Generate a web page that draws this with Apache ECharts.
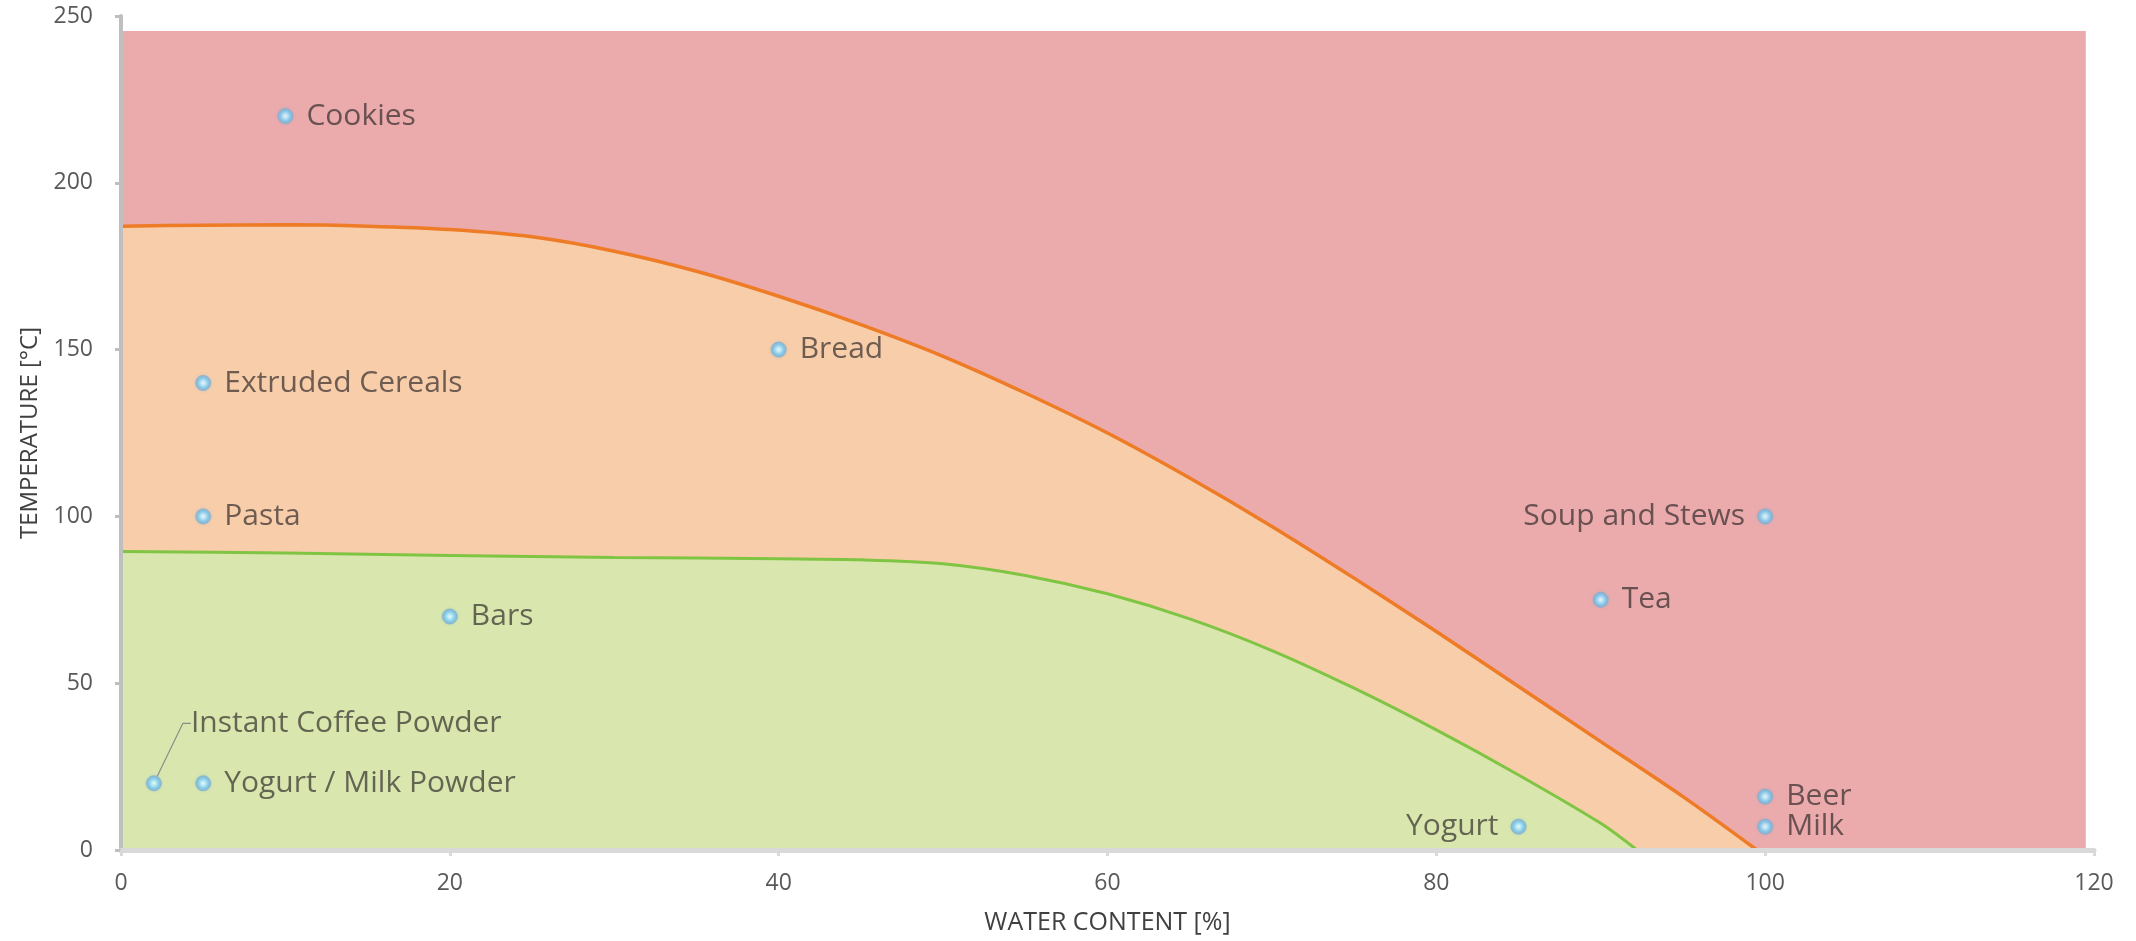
<!DOCTYPE html>
<html>
<head>
<meta charset="utf-8">
<script src="https://cdn.jsdelivr.net/npm/echarts@6/dist/echarts.min.js"></script>
<style>
html,body{margin:0;padding:0;background:#fff;}
#chart{width:2136px;height:941px;}
</style>
</head>
<body>
<div id="chart"></div>
<script>
// ---- data ----
const xTicks = [0, 20, 40, 60, 80, 100, 120];
const yTicks = [0, 50, 100, 150, 200, 250];

// upper region (red) extent
const redX = [0, 119.5];
const redY = [245.5, 245.5];

// orange boundary curve
const orangeX = [0, 5, 10, 15, 20, 25, 30, 35, 40, 45, 50, 55, 60, 65, 70, 75, 80, 85, 90, 95, 99.5];
const orangeY = [187, 187.3, 187.4, 187, 186, 183.8, 179.5, 173.5, 166, 157.5, 148, 137, 125, 111.5, 97, 81.5, 65.5, 49, 32.5, 16, 0];

// green boundary curve
const greenX = [0, 10, 20, 30, 40, 45, 50, 55, 60, 65, 70, 75, 80, 85, 90, 92.2];
const greenY = [89.5, 89, 88.3, 87.7, 87.3, 87, 85.8, 82.3, 76.8, 69.3, 59.8, 48.5, 36, 22.5, 8, 0];

// foods
const foodNames = ['Cookies', 'Extruded Cereals', 'Pasta', 'Bars', 'Bread', 'Instant Coffee Powder',
  'Yogurt / Milk Powder', 'Yogurt', 'Soup and Stews', 'Tea', 'Beer', 'Milk'];
const foodWater = [10, 5, 5, 20, 40, 2, 5, 85, 100, 90, 100, 100];
const foodTemp  = [220, 140, 100, 70, 150, 20, 20, 7, 100, 75, 16, 7];

const leftLabeled = ['Yogurt', 'Soup and Stews'];
const leaderLabeled = ['Instant Coffee Powder'];

function pairs(xs, ys) { return xs.map((x, i) => [x, ys[i]]); }

const FONT = '"Open Sans", "Noto Sans", sans-serif';

const markerColor = {
  type: 'radial', x: 0.5, y: 0.5, r: 0.5,
  colorStops: [
    { offset: 0, color: '#ffffff' },
    { offset: 0.3, color: '#b5ecff' },
    { offset: 0.7, color: '#72c2ec' },
    { offset: 1, color: '#9ab3c9' }
  ]
};

const foodData = foodNames.map((n, i) => {
  const item = { name: n, value: [foodWater[i], foodTemp[i]] };
  if (leftLabeled.includes(n)) {
    item.label = { position: 'left', distance: 12 };
  }
  if (leaderLabeled.includes(n)) {
    item.labelLine = { show: true, length2: 8, lineStyle: { color: '#8c8c8c', width: 1.2 } };
  }
  return item;
});

const chart = echarts.init(document.getElementById('chart'), null, { renderer: 'canvas' });
chart.setOption({
  animation: false,
  backgroundColor: '#ffffff',
  grid: { left: 121, right: 42, top: 16, bottom: 91, containLabel: false },
  xAxis: {
    type: 'value', min: xTicks[0], max: xTicks[xTicks.length - 1], interval: 20, z: 10,
    name: 'WATER CONTENT [%]', nameLocation: 'middle', nameGap: 60,
    nameTextStyle: { fontFamily: FONT, fontSize: 25, color: '#404040' },
    axisLine: { show: true, lineStyle: { color: '#d9d9d9', width: 5, cap: 'round' } },
    axisTick: { show: true, length: 6, lineStyle: { color: '#d9d9d9', width: 3 } },
    axisLabel: { fontFamily: FONT, fontSize: 23, color: '#595959', margin: 22 },
    splitLine: { show: false }
  },
  yAxis: {
    type: 'value', min: yTicks[0], max: yTicks[yTicks.length - 1], interval: 50, z: 10,
    name: 'TEMPERATURE [°C]', nameLocation: 'middle', nameGap: 78, nameRotate: 90,
    nameTextStyle: { fontFamily: FONT, fontSize: 24, color: '#404040' },
    axisLine: { show: true, lineStyle: { color: '#bfbfbf', width: 4, cap: 'round' } },
    axisTick: { show: true, length: 6, lineStyle: { color: '#bfbfbf', width: 3 } },
    axisLabel: { fontFamily: FONT, fontSize: 23, color: '#595959', margin: 28 },
    splitLine: { show: false }
  },
  series: [
    {
      type: 'line', name: 'red', data: pairs(redX, redY), symbol: 'none', z: 1,
      lineStyle: { width: 0 }, areaStyle: { color: '#ebaaab', opacity: 1 }, silent: true
    },
    {
      type: 'line', name: 'orange', data: pairs(orangeX, orangeY), symbol: 'none', z: 2,
      smooth: 0.3,
      lineStyle: { width: 3.5, color: '#ee7b25' }, areaStyle: { color: '#f7cdaa', opacity: 1 }, silent: true
    },
    {
      type: 'line', name: 'green', data: pairs(greenX, greenY), symbol: 'none', z: 3,
      smooth: 0.3,
      lineStyle: { width: 3, color: '#80c443' }, areaStyle: { color: '#d9e7ae', opacity: 1 }, silent: true
    },
    {
      type: 'scatter', name: 'foods', data: foodData, z: 5,
      symbol: 'circle', symbolSize: 15,
      itemStyle: { color: markerColor, borderColor: 'rgba(130,160,190,0.7)', borderWidth: 1,
        shadowColor: 'rgba(110,190,240,0.5)', shadowBlur: 3 },
      label: {
        show: true, position: 'right', distance: 13, formatter: '{b}',
        fontFamily: FONT, fontSize: 30, color: 'rgba(45,40,40,0.85)', padding: [6, 0, 0, 0]
      },
      labelLine: { show: false },
      labelLayout: function (params) {
        const n = foodNames[params.dataIndex];
        if (leaderLabeled.includes(n)) {
          return { dx: 16, dy: -60 };
        }
        return {};
      }
    }
  ]
});
</script>
</body>
</html>
